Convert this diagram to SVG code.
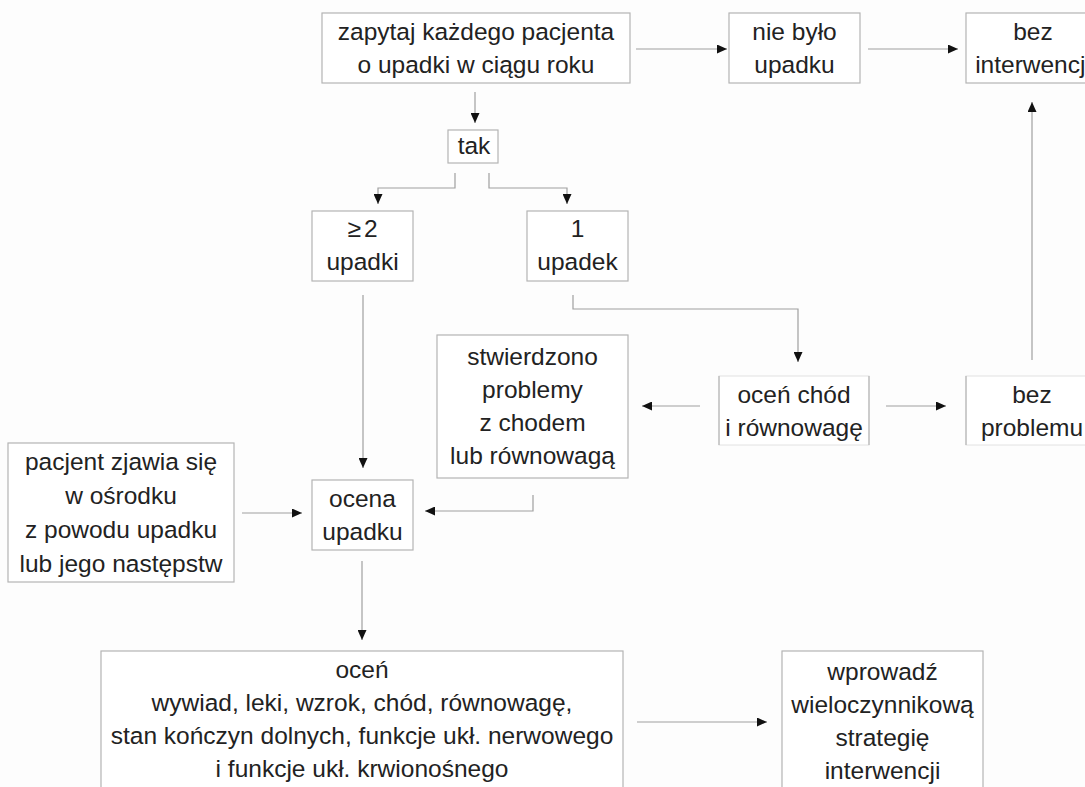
<svg xmlns="http://www.w3.org/2000/svg" width="1085" height="787" viewBox="0 0 1085 787">
<style>
.box{fill:#fff;stroke:#b4b4b4;stroke-width:1.2}
.faint{fill:#fff;stroke:#e2e2e2;stroke-width:1}
.side{stroke:#b4b4b4;stroke-width:1.2}
.t{font-family:"Liberation Sans",Arial,sans-serif;font-size:24.5px;fill:#222;text-anchor:middle}
.c{fill:none;stroke:#a0a0a0;stroke-width:1.2;marker-end:url(#ah)}
.l{fill:none;stroke:#a0a0a0;stroke-width:1.2}
</style>
<defs>
<marker id="ah" markerUnits="userSpaceOnUse" markerWidth="10" markerHeight="9" refX="10" refY="4.5" orient="auto">
<path d="M0,0 L10,4.5 L0,9 z" fill="#111"/>
</marker>
</defs>
<rect width="1085" height="787" fill="#fdfdfd"/>
<g id="connectors">
<path class="c" d="M636,49 H727"/>
<path class="c" d="M868,49 H958"/>
<path class="c" d="M475,92 V123"/>
<path class="c" d="M455,173 V188 H378 V204"/>
<path class="c" d="M489,173 V188 H567 V204"/>
<path class="c" d="M363,295 V468"/>
<path class="c" d="M573,295 V309 H798 V362"/>
<path class="c" d="M700,406 H642"/>
<path class="c" d="M886,406 H946"/>
<path class="c" d="M1032,360 V102"/>
<path class="c" d="M533,495 V511 H425"/>
<path class="c" d="M242,513 H302"/>
<path class="c" d="M362,561 V640"/>
<path class="c" d="M637,722 H767"/>
</g>
<g id="n_zapytaj">
<rect class="box" x="322" y="13" width="308" height="70"/>
<text class="t" x="476" y="40">zapytaj każdego pacjenta</text>
<text class="t" x="476" y="73">o upadki w ciągu roku</text>
</g>
<g id="n_niebylo">
<rect class="box" x="729" y="13" width="131" height="70"/>
<text class="t" x="794.5" y="40">nie było</text>
<text class="t" x="794.5" y="73">upadku</text>
</g>
<g id="n_bezinterwencji">
<rect class="box" x="966" y="13" width="134" height="70"/>
<text class="t" x="1033" y="40">bez</text>
<text class="t" x="1033" y="73">interwencji</text>
</g>
<g id="n_tak">
<rect class="box" x="448" y="130" width="50" height="33"/>
<text class="t" x="474" y="154">tak</text>
</g>
<g id="n_2upadki">
<rect class="box" x="312" y="211" width="101" height="70"/>
<text class="t" x="362.5" y="237">≥<tspan dx="3">2</tspan></text>
<text class="t" x="362.5" y="270">upadki</text>
</g>
<g id="n_1upadek">
<rect class="box" x="527" y="211" width="101" height="70"/>
<text class="t" x="577.5" y="237">1</text>
<text class="t" x="577.5" y="270">upadek</text>
</g>
<g id="n_stwierdzono">
<rect class="box" x="437" y="335" width="191" height="143"/>
<text class="t" x="532.5" y="365">stwierdzono</text>
<text class="t" x="532.5" y="398">problemy</text>
<text class="t" x="532.5" y="431">z chodem</text>
<text class="t" x="532.5" y="464">lub równowagą</text>
</g>
<g id="n_ocenchod">
<rect class="faint" x="719" y="376" width="150" height="69"/>
<line class="side" x1="719" y1="376" x2="719" y2="445"/>
<line class="side" x1="869" y1="376" x2="869" y2="445"/>
<text class="t" x="794" y="403">oceń chód</text>
<text class="t" x="794" y="436">i równowagę</text>
</g>
<g id="n_bezproblemu">
<rect class="faint" x="966" y="376" width="132" height="69"/>
<line class="side" x1="966" y1="376" x2="966" y2="445"/>
<text class="t" x="1032" y="403">bez</text>
<text class="t" x="1032" y="436">problemu</text>
</g>
<g id="n_pacjent">
<rect class="box" x="8" y="443" width="226" height="139"/>
<text class="t" x="121" y="470">pacjent zjawia się</text>
<text class="t" x="121" y="504">w ośrodku</text>
<text class="t" x="121" y="538">z powodu upadku</text>
<text class="t" x="121" y="572">lub jego następstw</text>
</g>
<g id="n_ocena">
<rect class="box" x="312" y="480" width="101" height="70"/>
<text class="t" x="362.5" y="507">ocena</text>
<text class="t" x="362.5" y="540">upadku</text>
</g>
<g id="n_ocen">
<rect class="box" x="101" y="651" width="522" height="150"/>
<text class="t" x="362" y="678">oceń</text>
<text class="t" x="362" y="711">wywiad, leki, wzrok, chód, równowagę,</text>
<text class="t" x="362" y="744">stan kończyn dolnych, funkcje ukł. nerwowego</text>
<text class="t" x="362" y="777">i funkcje ukł. krwionośnego</text>
</g>
<g id="n_wprowadz">
<rect class="box" x="782" y="651" width="201" height="150"/>
<text class="t" x="882.5" y="680">wprowadź</text>
<text class="t" x="882.5" y="713">wieloczynnikową</text>
<text class="t" x="882.5" y="746">strategię</text>
<text class="t" x="882.5" y="779">interwencji</text>
</g>
</svg>
